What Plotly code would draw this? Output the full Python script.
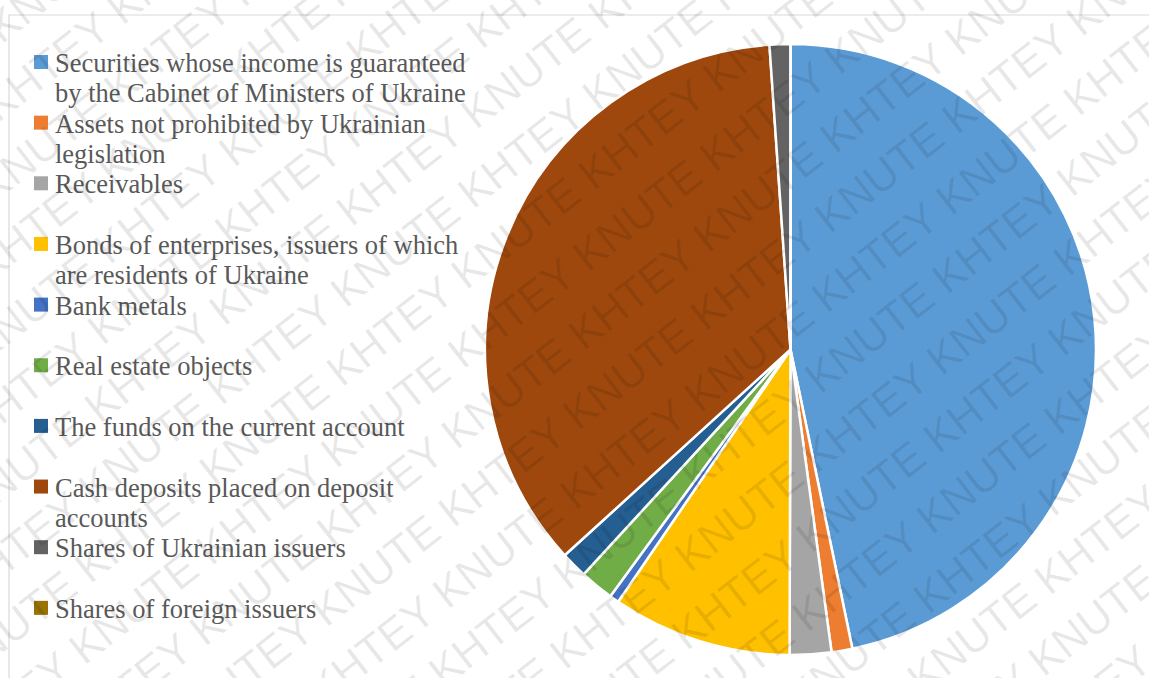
import math
import plotly.graph_objects as go

# Structure of the insurance reserve assets, % of total
labels = [
    "Securities whose income is guaranteed<br>by the Cabinet of Ministers of Ukraine",
    "Assets not prohibited by Ukrainian<br>legislation",
    "Receivables",
    "Bonds of enterprises, issuers of which<br>are residents of Ukraine",
    "Bank metals",
    "Real estate objects",
    "The funds on the current account",
    "Cash deposits placed on deposit<br>accounts",
    "Shares of Ukrainian issuers",
    "Shares of foreign issuers",
]
shares = [46.8, 1.1, 2.2, 9.5, 0.5, 1.8, 1.4, 35.7, 1.1, 0.0]
colors = ["#5B9BD5", "#ED7D31", "#A5A5A5", "#FFC000", "#4472C4",
          "#70AD47", "#255E91", "#9E480E", "#636363", "#997300"]

W, H = 1149, 678


def px(x):
    return x / W


def py(y):
    return 1 - y / H


fig = go.Figure()
fig.add_trace(go.Pie(
    labels=[t.replace("<br>", " ") for t in labels],
    values=shares,
    sort=False,
    direction="clockwise",
    rotation=0,
    textinfo="none",
    showlegend=False,
    marker=dict(colors=colors, line=dict(color="white", width=2.5)),
    domain=dict(x=[px(485), px(1096)], y=[py(655), py(44)]),
    hovertemplate="%{label}: %{value}%<extra></extra>",
))

shapes = []
annotations = []

# Chart frame
shapes.append(dict(type="rect", xref="paper", yref="paper",
                   x0=px(9), x1=px(W + 10), y0=py(H + 10), y1=py(15),
                   line=dict(color="#D9D9D9", width=1.2), layer="below"))

# Legend: one slot per category, wrapped lines stacked inside the slot
legend_font = dict(family="Times New Roman, Liberation Serif, serif",
                   size=26.5, color="#595959")
slot_top, slot_step, line_step = 62, 60.65, 30
for i, (lab, col) in enumerate(zip(labels, colors)):
    yc = slot_top + i * slot_step
    shapes.append(dict(type="rect", xref="paper", yref="paper",
                       x0=px(34), x1=px(48), y0=py(yc + 7), y1=py(yc - 7),
                       fillcolor=col, line=dict(width=0)))
    for j, part in enumerate(lab.split("<br>")):
        annotations.append(dict(
            xref="paper", yref="paper", x=px(53), y=py(yc + 1 + j * line_step),
            xanchor="left", yanchor="middle", showarrow=False,
            text=part, font=legend_font))

# Diagonal "KHTEY KNUTE" watermark tiled over the whole chart
ang = math.radians(38)
ux, uy = math.cos(ang), -math.sin(ang)
nx, ny = math.sin(ang), math.cos(ang)
cx, cy = W / 2, H / 2
period = 320
for k in range(-12, 13):
    shift = ((k * 107) % period) - period / 2
    x = cx + k * 60 * nx + shift * ux
    y = cy + k * 60 * ny + shift * uy
    annotations.append(dict(
        xref="paper", yref="paper", x=px(x), y=py(y),
        xanchor="center", yanchor="middle", showarrow=False,
        textangle=-38, text="KHTEY KNUTE " * 7,
        font=dict(family="Liberation Sans, Arial, sans-serif", size=44,
                  color="rgba(0,0,0,0.09)")))

fig.update_layout(
    width=W, height=H,
    margin=dict(l=0, r=0, t=0, b=0),
    paper_bgcolor="white",
    plot_bgcolor="white",
    shapes=shapes,
    annotations=annotations,
)

fig.write_html("out.html")
